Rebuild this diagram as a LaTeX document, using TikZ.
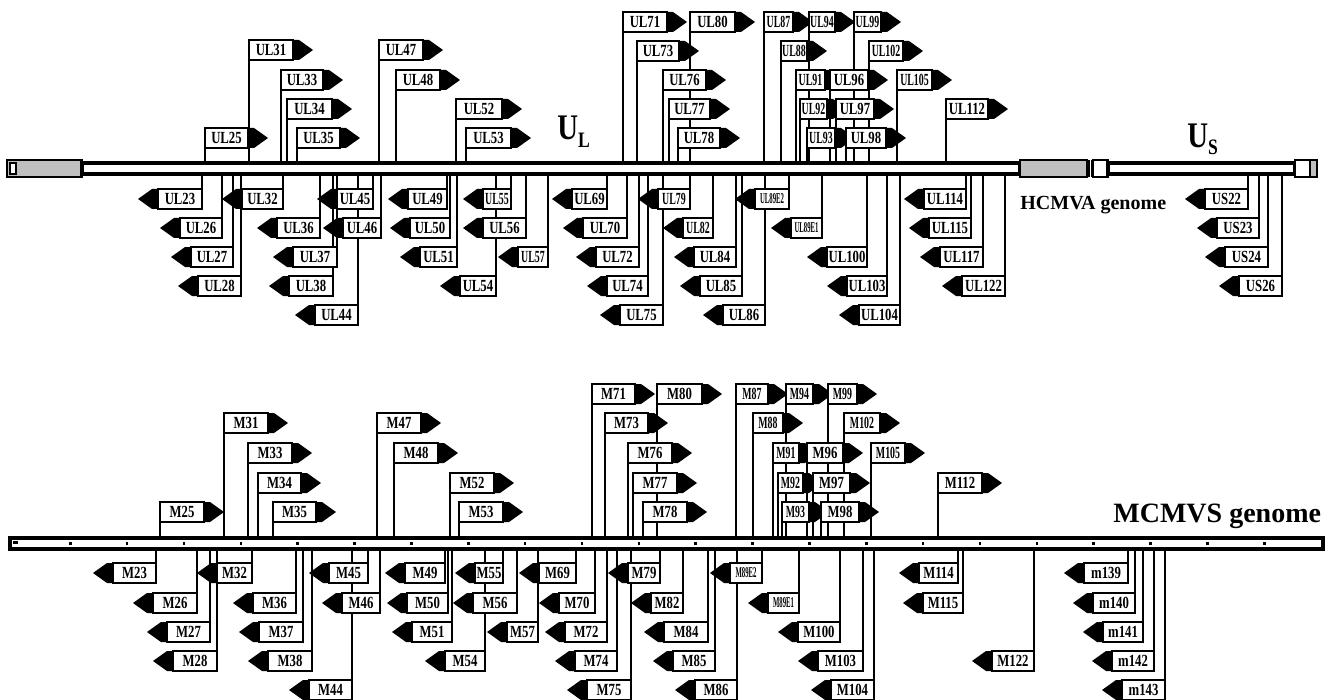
\documentclass[tikz,border=0pt]{standalone}
\usepackage{fontspec}
\setmainfont{Liberation Serif}
\newfontfamily\gfont[FakeStretch=0.75]{Liberation Serif}
\newfontfamily\gnarrowfont[FakeStretch=0.58]{Liberation Serif}
\newfontfamily\gtinyfont[FakeStretch=0.45]{Liberation Serif}
\newfontfamily\titlefont[FakeStretch=0.8]{Liberation Serif}

\pgfdeclarelayer{stems}
\pgfsetlayers{stems,main}

\tikzset{
  genebox/.style={draw, fill=white, line width=1.3pt, inner sep=0pt, outer sep=0pt, minimum height=10pt, font=\gfont\bfseries\fontsize{8.5}{8.5}\selectfont},
  narrowlbl/.style={font=\gnarrowfont\bfseries\fontsize{8.5}{8.5}\selectfont},
  tinylbl/.style={font=\gtinyfont\bfseries\fontsize{7.5}{7.5}\selectfont},
  stem/.style={line width=1.4pt},
  genomebar/.style={draw, fill=white, line width=1.6pt, inner sep=0pt, outer sep=0pt, minimum height=5.5pt, anchor=north west},
  endbox/.style={draw, line width=1.4pt},
}

% gene pointing right, flag pole at its left edge (above the bar)
\newcommand{\rgene}[5][]{%
  \node[genebox,#1,minimum width=#5*0.5pt,anchor=north west] (#2) at (#3,#4) {#2};
  \fill (#2.north east) -- ++(6,0) -- ++(14,10) -- ++(-14,10) -- ++(-6,0) -- cycle;
  \begin{pgfonlayer}{stems}
  \draw[stem] (#2.south west) -- (#2.south west |- \curbar.north);
  \end{pgfonlayer}}
% gene pointing left, flag pole at its right edge (below the bar)
\newcommand{\lgene}[5][]{%
  \node[genebox,#1,minimum width=#5*0.5pt,anchor=north west] (#2) at (#3,#4) {#2};
  \fill (#2.north west) -- ++(-6,0) -- ++(-14,10) -- ++(14,10) -- ++(6,0) -- cycle;
  \begin{pgfonlayer}{stems}
  \draw[stem] (#2.north east) -- (#2.north east |- \curbar.south);
  \end{pgfonlayer}}

\begin{document}
\begin{tikzpicture}[x=0.5pt,y=-0.5pt]
\useasboundingbox (0,0) rectangle (1337,700);

%%%%%%%%%%%%%%%% HCMVA genome
\def\curbar{hbar}
%Shape: Rectangle
\draw[endbox, fill=gray!50] (7,160) rectangle (82,177);
\draw[line width=0.8pt, fill=white] (10,163) rectangle (16,174);
\node[genomebar, minimum width=469pt] (hbar) at (82,163) {};
\draw[endbox, fill=gray!50] (1020,160) rectangle (1087,177);
\draw[line width=0.9pt] (1089,160) -- (1089,177) (1091.5,160) -- (1091.5,177);
\draw[endbox, fill=white] (1093,160) rectangle (1108,177);
\node[genomebar, minimum width=93.5pt] (hbarS) at (1108,163) {};
\draw[endbox, fill=white] (1295,160) rectangle (1310,177);
\draw[endbox, fill=gray!50] (1310,160) rectangle (1317,177);

% Text Node
\node[anchor=base west, inner sep=0pt, font=\titlefont\bfseries] (UL) at (557,140) {\fontsize{18}{18}\selectfont U\raisebox{-4pt}{\fontsize{11}{11}\selectfont L}};
% Text Node
\node[anchor=base west, inner sep=0pt, font=\titlefont\bfseries] (US) at (1187,148) {\fontsize{18}{18}\selectfont U\raisebox{-3.5pt}{\fontsize{11}{11}\selectfont S}};
% Text Node
\node[anchor=base west, inner sep=0pt, font=\bfseries\fontsize{10}{12}\selectfont] (hlabel) at (1020,210) {HCMVA genome};

% genes above the bar
\rgene{UL25}{205}{128}{43}
\rgene{UL31}{249}{40}{44}
\rgene{UL33}{281}{70}{42}
\rgene{UL34}{287}{99}{45}
\rgene{UL35}{297}{128}{43}
\rgene{UL47}{379}{40}{44}
\rgene{UL48}{396}{70}{44}
\rgene{UL52}{456}{99}{46}
\rgene{UL53}{466}{128}{45}
\rgene{UL71}{623}{12}{44}
\rgene{UL80}{690}{12}{45}
\rgene{UL73}{637}{41}{42}
\rgene{UL76}{663}{70}{43}
\rgene{UL77}{669}{99}{41}
\rgene{UL78}{678}{128}{42}
\rgene[narrowlbl]{UL87}{764}{12}{29}
\rgene[narrowlbl]{UL94}{809}{12}{26}
\rgene[narrowlbl]{UL99}{854}{12}{27}
\rgene[narrowlbl]{UL88}{781}{41}{26}
\rgene[narrowlbl]{UL102}{869}{41}{34}
\rgene[narrowlbl]{UL91}{796}{70}{29}
\rgene{UL96}{830}{70}{38}
\rgene[narrowlbl]{UL105}{897}{70}{35}
\rgene[narrowlbl]{UL92}{800}{99}{27}
\rgene{UL97}{836}{99}{38}
\rgene[narrowlbl]{UL93}{807}{128}{28}
\rgene{UL98}{846}{128}{40}
\rgene{UL112}{946}{99}{42}

% genes below the bar
\lgene{UL23}{158}{189}{44}
\lgene{UL26}{180}{218}{42}
\lgene{UL27}{191}{247}{42}
\lgene{UL28}{198}{276}{43}
\lgene{UL32}{242}{189}{41}
\lgene{UL36}{277}{218}{43}
\lgene{UL37}{293}{247}{44}
\lgene{UL38}{289}{276}{44}
\lgene{UL44}{315}{305}{43}
\lgene{UL45}{337}{189}{36}
\lgene{UL46}{343}{218}{38}
\lgene{UL49}{408}{189}{39}
\lgene{UL50}{410}{218}{40}
\lgene{UL51}{420}{247}{37}
\lgene{UL54}{460}{276}{36}
\lgene[narrowlbl]{UL55}{483}{189}{28}
\lgene{UL56}{483}{218}{43}
\lgene[narrowlbl]{UL57}{518}{247}{30}
\lgene{UL69}{572}{189}{35}
\lgene{UL70}{583}{218}{44}
\lgene{UL72}{596}{247}{43}
\lgene{UL74}{607}{276}{41}
\lgene{UL75}{620}{305}{43}
\lgene[narrowlbl]{UL79}{658}{189}{32}
\lgene[narrowlbl]{UL82}{683}{218}{30}
\lgene{UL84}{694}{247}{42}
\lgene{UL85}{700}{276}{42}
\lgene{UL86}{723}{305}{42}
\lgene[tinylbl]{UL89E2}{755}{189}{34}
\lgene[tinylbl]{UL89E1}{791}{218}{31}
\lgene{UL100}{827}{247}{40}
\lgene{UL103}{847}{276}{40}
\lgene{UL104}{859}{305}{41}
\lgene{UL114}{924}{189}{42}
\lgene{UL115}{929}{218}{42}
\lgene{UL117}{940}{247}{43}
\lgene{UL122}{962}{276}{43}
\lgene{US22}{1205}{189}{43}
\lgene{US23}{1217}{218}{42}
\lgene{US24}{1225}{247}{43}
\lgene{US26}{1239}{276}{43}

%%%%%%%%%%%%%%%% MCMVS genome
\def\curbar{mbar}
\node[genomebar, minimum width=656.5pt] (mbar) at (10,538) {};
\foreach \k in {0,...,21} \fill ({69+56.86*\k},542) rectangle ++(2.5,3);
\fill (13,541) rectangle ++(5,3);

% Text Node
\node[anchor=base west, inner sep=0pt, font=\bfseries\fontsize{14}{16}\selectfont] (mlabel) at (1113,522) {MCMVS genome};

% genes above the bar
\rgene{M25}{160}{502}{44}
\rgene{M31}{224}{413}{44}
\rgene{M33}{248}{443}{44}
\rgene{M34}{258}{473}{43}
\rgene{M35}{273}{502}{43}
\rgene{M47}{377}{413}{44}
\rgene{M48}{394}{443}{44}
\rgene{M52}{450}{473}{44}
\rgene{M53}{459}{502}{44}
\rgene{M71}{592}{384}{43}
\rgene{M80}{657}{384}{45}
\rgene{M73}{605}{413}{43}
\rgene{M76}{628}{443}{44}
\rgene{M77}{633}{473}{44}
\rgene{M78}{643}{502}{44}
\rgene[narrowlbl]{M87}{736}{384}{32}
\rgene[narrowlbl]{M94}{786}{384}{27}
\rgene[narrowlbl]{M99}{828}{384}{29}
\rgene[narrowlbl]{M88}{753}{413}{30}
\rgene[narrowlbl]{M102}{844}{413}{36}
\rgene[narrowlbl]{M91}{773}{443}{26}
\rgene{M96}{807}{443}{36}
\rgene[narrowlbl]{M105}{871}{443}{34}
\rgene[narrowlbl]{M92}{778}{473}{25}
\rgene{M97}{813}{473}{37}
\rgene[narrowlbl]{M93}{782}{502}{27}
\rgene{M98}{821}{502}{38}
\rgene{M112}{938}{473}{44}

% genes below the bar
\lgene{M23}{113}{563}{43}
\lgene{M26}{153}{593}{44}
\lgene{M27}{167}{622}{43}
\lgene{M28}{173}{651}{44}
\lgene{M32}{217}{563}{35}
\lgene{M36}{253}{593}{43}
\lgene{M37}{259}{622}{44}
\lgene{M38}{268}{651}{44}
\lgene{M44}{309}{680}{43}
\lgene{M45}{329}{563}{39}
\lgene{M46}{342}{593}{38}
\lgene{M49}{405}{563}{40}
\lgene{M50}{407}{593}{41}
\lgene{M51}{412}{622}{40}
\lgene{M54}{445}{651}{40}
\lgene{M55}{475}{563}{28}
\lgene{M56}{473}{593}{44}
\lgene{M57}{507}{622}{31}
\lgene{M69}{539}{563}{37}
\lgene{M70}{559}{593}{36}
\lgene{M72}{565}{622}{42}
\lgene{M74}{575}{651}{42}
\lgene{M75}{587}{680}{44}
\lgene{M79}{628}{563}{32}
\lgene{M82}{651}{593}{32}
\lgene{M84}{664}{622}{44}
\lgene{M85}{673}{651}{42}
\lgene{M86}{695}{680}{42}
\lgene[tinylbl]{M89E2}{730}{563}{32}
\lgene[tinylbl]{M89E1}{768}{593}{31}
\lgene{M100}{798}{622}{42}
\lgene{M103}{818}{651}{45}
\lgene{M104}{831}{680}{43}
\lgene{M114}{919}{563}{39}
\lgene{M115}{923}{593}{40}
\lgene{M122}{992}{651}{42}
\lgene{m139}{1084}{563}{44}
\lgene{m140}{1093}{593}{42}
\lgene{m141}{1103}{622}{40}
\lgene{m142}{1112}{651}{42}
\lgene{m143}{1122}{680}{43}

\end{tikzpicture}
\end{document}
